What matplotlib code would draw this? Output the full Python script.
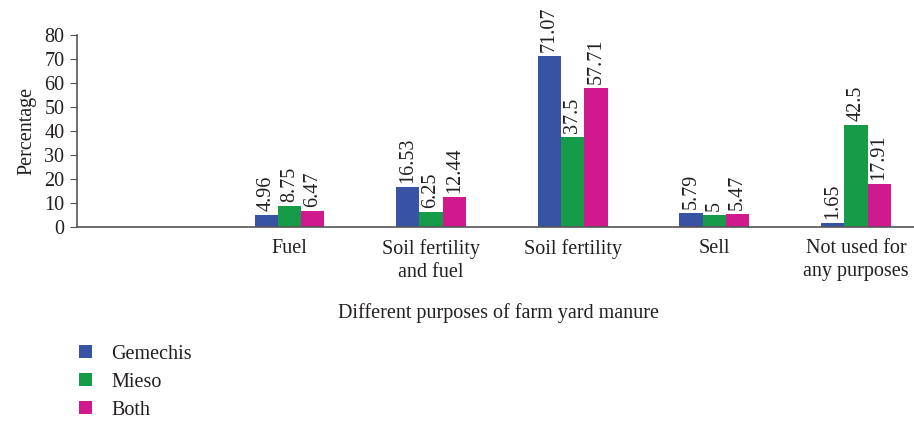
import numpy as np
import matplotlib.pyplot as plt
from matplotlib.patches import Patch

plt.rcParams['font.family'] = ['Liberation Serif', 'DejaVu Serif']

categories = ["", "Fuel", "Soil fertility\nand fuel", "Soil fertility", "Sell",
              "Not used for\nany purposes"]
gemechis = [np.nan, 4.96, 16.53, 71.07, 5.79, 1.65]
mieso = [np.nan, 8.75, 6.25, 37.5, 5, 42.5]
both = [np.nan, 6.47, 12.44, 57.71, 5.47, 17.91]
series = ["Gemechis", "Mieso", "Both"]
colors = ["#3953A4", "#169B48", "#D0198C"]

fs = 14.5
tc = '#231f20'

fig = plt.figure(figsize=(9.14, 4.23), dpi=100)
ax = fig.add_axes([0.0842, 0.4634, 0.9158, 0.4539])

x = np.arange(len(categories))
width = 0.164
for i, (vals, c) in enumerate(zip([gemechis, mieso, both], colors)):
    pos = x + (i - 1) * width
    ax.bar(pos, vals, width, color=c, edgecolor='none')
    for p, v in zip(pos, vals):
        if np.isnan(v):
            continue
        ax.annotate(f"{v:g}", (p, v), xytext=(0, 3), textcoords='offset points',
                    rotation=90, ha='center', va='bottom', fontsize=fs, color=tc)

ax.set_xlim(-0.5, 5.41)
ax.set_ylim(0, 80)
ax.set_yticks(range(0, 81, 10))
ax.set_xticks(x[1:])
ax.set_xticklabels(categories[1:], fontsize=fs, color=tc, linespacing=1.25)
ax.tick_params(axis='x', length=0, pad=9)
ax.tick_params(axis='y', direction='out', length=5, labelsize=fs, labelcolor=tc,
               color='#555555', pad=4)
for s in ['top', 'right']:
    ax.spines[s].set_visible(False)
for s in ['left', 'bottom']:
    ax.spines[s].set_color('#555555')
    ax.spines[s].set_linewidth(1.2)

ax.set_ylabel("Percentage", fontsize=fs, color=tc, labelpad=6)
fig.text(0.545, 0.26, "Different purposes of farm yard manure", ha='center', va='center',
         fontsize=fs, color=tc)

handles = [Patch(facecolor=c, edgecolor='none') for c in colors]
fig.legend(handles, series, loc='upper left', bbox_to_anchor=(0.078, 0.204), frameon=False,
           fontsize=fs, handlelength=0.62, handleheight=0.62, handletextpad=0.95,
           labelspacing=0.45, labelcolor=tc, borderaxespad=0)

fig.savefig('out.png', dpi=100)
